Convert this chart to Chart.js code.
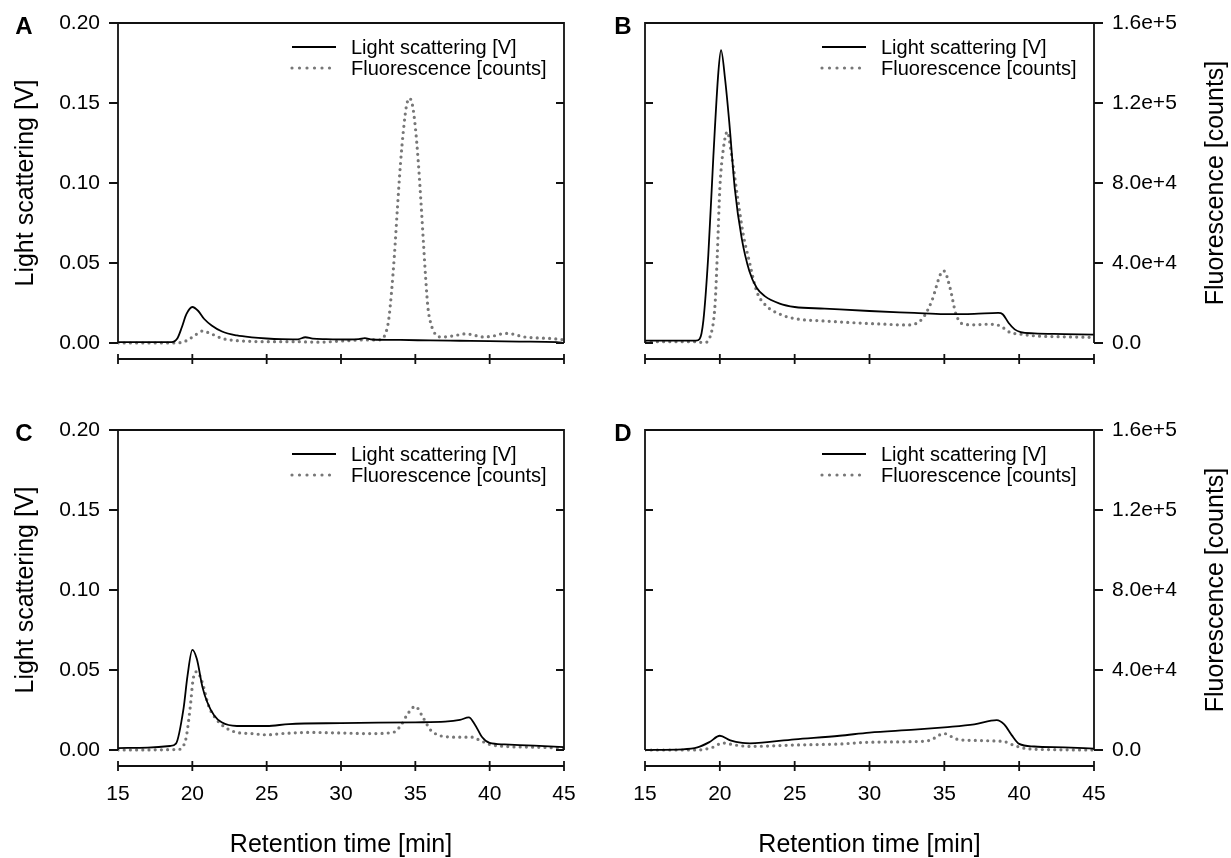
<!DOCTYPE html>
<html lang="en">
<head>
  <meta charset="UTF-8">
  <title>Light scattering and fluorescence chromatograms</title>
  <style>
    body { margin: 0; background: #fff; }
    .page { position: relative; width: 1231px; height: 858px; }
    .panel { position: absolute; }
    #panelA { left: 0; top: 0; width: 615px; height: 400px; }
    #panelB { left: 615px; top: 0; width: 616px; height: 400px; }
    #panelC { left: 0; top: 400px; width: 615px; height: 458px; }
    #panelD { left: 615px; top: 400px; width: 616px; height: 458px; }
  </style>
  <script src="https://cdn.jsdelivr.net/npm/chart.js"></script>
</head>
<body>
  <div class="page">
    <div class="panel" id="panelA"><canvas id="chartA"></canvas></div>
    <div class="panel" id="panelB"><canvas id="chartB"></canvas></div>
    <div class="panel" id="panelC"><canvas id="chartC"></canvas></div>
    <div class="panel" id="panelD"><canvas id="chartD"></canvas></div>
  </div>

  <script>
    // axis ticks
    const timeTicks = [15, 20, 25, 30, 35, 40, 45];
    const lsTicks = [0, 0.05, 0.10, 0.15, 0.20];
    const flTicks = [0, 40000, 80000, 120000, 160000];

    // panel A
    const aLsTime = [15, 18.6, 19.0, 19.3, 19.6, 20.0, 20.4, 20.8, 21.3, 22, 23, 24, 25, 26, 27.1, 27.6, 28.1, 29, 30.5, 31.2, 31.6, 32.1, 34, 36, 38, 40, 42, 44.5, 45];
    const aLsValue = [0.0005, 0.0006, 0.003, 0.010, 0.018, 0.0225, 0.020, 0.015, 0.011, 0.0072, 0.0047, 0.0035, 0.0028, 0.0024, 0.0023, 0.0036, 0.0027, 0.0024, 0.0022, 0.0024, 0.003, 0.0022, 0.0019, 0.0016, 0.0014, 0.0012, 0.0009, 0.0005, 0.0];
    const aFlTime = [15, 18.5, 19.2, 19.7, 20.2, 20.7, 21.2, 22, 23, 24, 25, 27, 28.5, 30, 31.5, 32.6, 33.0, 33.2, 33.4, 33.6, 33.8, 34.0, 34.2, 34.4, 34.6, 34.8, 35.0, 35.2, 35.4, 35.55, 35.7, 35.85, 36.05, 36.4, 36.8, 37.4, 38.0, 38.4, 39.0, 39.6, 40.3, 41.0, 41.6, 42.2, 43, 44, 45];
    const aFlCounts = [0, 0, 200, 1500, 4000, 6000, 4800, 2300, 1200, 800, 650, 650, 400, 950, 1500, 1600, 4800, 11200, 25600, 44800, 68000, 89600, 106400, 118400, 122400, 119200, 108000, 90400, 68000, 49600, 32000, 17600, 9600, 4000, 3000, 3400, 4200, 4600, 3800, 3000, 3600, 4800, 4400, 3200, 2600, 2300, 1600];

    // panel B
    const bLsTime = [15, 18.4, 18.65, 18.9, 19.23, 19.57, 19.9, 20.08, 20.35, 20.63, 21.0, 21.46, 21.97, 22.46, 23.0, 24.0, 25, 27, 30, 33, 35, 37, 38.6, 38.9, 39.3, 39.7, 40.1, 41, 43, 45];
    const bLsValue = [0.0015, 0.0015, 0.0025, 0.014, 0.055, 0.117, 0.169, 0.183, 0.165, 0.138, 0.0965, 0.0655, 0.045, 0.0345, 0.0293, 0.0246, 0.0225, 0.0215, 0.0200, 0.0188, 0.0180, 0.0182, 0.0188, 0.0180, 0.0125, 0.0085, 0.0068, 0.0060, 0.0056, 0.0052];
    const bFlTime = [15, 18.5, 18.7, 19.0, 19.35, 19.68, 19.83, 20.0, 20.23, 20.5, 20.79, 21.17, 21.57, 21.97, 22.46, 23.02, 24.02, 25.0, 27.0, 29.0, 31.0, 32.5, 33.5, 34.15, 34.78, 34.98, 35.38, 35.78, 36.27, 36.94, 37.94, 38.72, 39.39, 40.0, 41, 43, 45];
    const bFlCounts = [640, 640, 320, 320, 3200, 19200, 44000, 77200, 96800, 105600, 93600, 73600, 54100, 40800, 25900, 19200, 14400, 12200, 11000, 10100, 9400, 9000, 11900, 20800, 35000, 36000, 27600, 14400, 9400, 9100, 9400, 8600, 5300, 4500, 3600, 3100, 2800];

    // panel C
    const cLsTime = [15, 17, 18.5, 18.9, 19.41, 19.67, 20.0, 20.3, 20.69, 21.0, 21.46, 21.97, 23, 25, 26.5, 30, 35, 37, 38, 38.6, 39, 39.5, 40, 41, 43, 45];
    const cLsValue = [0.0012, 0.0015, 0.0025, 0.004, 0.026, 0.046, 0.0626, 0.057, 0.039, 0.030, 0.0217, 0.0173, 0.015, 0.015, 0.0162, 0.0168, 0.0173, 0.0177, 0.0188, 0.0204, 0.016, 0.008, 0.0044, 0.0035, 0.0027, 0.0018];
    const cFlTime = [15, 19.0, 19.54, 19.85, 20.05, 20.3, 20.69, 21.08, 21.59, 22.23, 23, 24, 25, 26, 28, 30, 32, 33.5, 34, 34.5, 35, 35.5, 36, 36.5, 37, 38, 38.8, 39.3, 40, 41, 43, 45];
    const cFlCounts = [0, 240, 4800, 20800, 35200, 39200, 33300, 22400, 15600, 11200, 8800, 8200, 7600, 8200, 8800, 8500, 8200, 8800, 12000, 18200, 21800, 16500, 10200, 7600, 6700, 6400, 6400, 5000, 2800, 1800, 1400, 1000];

    // panel D
    const dLsTime = [15, 17.5, 18.5, 19.3, 20, 20.7, 21.5, 22, 25, 28, 30, 33, 35, 37, 38.5, 39, 39.5, 40, 41, 43, 45];
    const dLsValue = [0, 0.0004, 0.0016, 0.0049, 0.0089, 0.006, 0.0044, 0.0042, 0.0067, 0.0089, 0.0109, 0.0127, 0.0142, 0.016, 0.0187, 0.016, 0.0093, 0.0038, 0.0022, 0.0016, 0.0009];
    const dFlTime = [15, 18.5, 19.5, 20.2, 21, 22, 25, 28, 30, 33, 34, 35, 35.5, 36, 37, 38, 39, 39.7, 40.5, 42, 45];
    const dFlCounts = [0, 0, 1300, 3500, 2500, 1800, 2500, 3000, 3900, 4200, 4800, 8200, 6600, 5100, 4800, 4600, 4200, 2200, 700, 200, 0];

    const FONT = "'Liberation Sans', Arial, Helvetica, sans-serif";
    Chart.defaults.font.family = FONT;
    Chart.defaults.color = '#000';

    const toPoints = (times, values) => times.map((t, i) => ({ x: t, y: values[i] }));

    // box frame, inner/outer ticks, offset time axis, legend, panel letter, vertical titles
    const framePlugin = {
      id: 'frame',
      afterDatasetsDraw(chart, args, o) {
        const { ctx, chartArea: a, scales: { x, y } } = chart;
        const y0 = y.getPixelForValue(0);
        ctx.save();
        ctx.strokeStyle = '#111';
        ctx.lineWidth = 1.8;
        ctx.beginPath();
        ctx.moveTo(a.left, y0);
        ctx.lineTo(a.left, a.top);
        ctx.lineTo(a.right, a.top);
        ctx.lineTo(a.right, y0);
        lsTicks.forEach(v => {
          const p = y.getPixelForValue(v);
          if (o.side === 'left') {
            ctx.moveTo(a.left - 9, p); ctx.lineTo(a.left, p);
            ctx.moveTo(a.right - 8, p); ctx.lineTo(a.right, p);
          } else {
            ctx.moveTo(a.left, p); ctx.lineTo(a.left + 8, p);
            ctx.moveTo(a.right, p); ctx.lineTo(a.right + 9, p);
          }
        });
        ctx.moveTo(a.left, a.bottom);
        ctx.lineTo(a.right, a.bottom);
        timeTicks.forEach(t => {
          const p = x.getPixelForValue(t);
          ctx.moveTo(p, a.bottom - 5);
          ctx.lineTo(p, a.bottom + 5);
        });
        ctx.stroke();

        // legend
        ctx.font = '20px ' + FONT;
        ctx.fillStyle = '#000';
        ctx.textAlign = 'left';
        ctx.textBaseline = 'middle';
        chart.data.datasets.forEach((ds, i) => {
          const ly = a.top + 24 + i * 21;
          ctx.save();
          ctx.strokeStyle = ds.borderColor;
          ctx.lineWidth = ds.borderWidth;
          ctx.lineCap = ds.borderCapStyle || 'butt';
          ctx.setLineDash(ds.borderDash ? [0, 7.5] : []);
          ctx.beginPath();
          ctx.moveTo(a.right - 272, ly);
          ctx.lineTo(a.right - 228, ly);
          ctx.stroke();
          ctx.restore();
          ctx.fillText(ds.label, a.right - 213, ly + 1);
        });

        // panel letter
        ctx.font = 'bold 24px ' + FONT;
        ctx.textAlign = 'center';
        ctx.fillText(o.letter, o.letterX, a.top + 4);

        // vertical axis title, reading bottom to top on both sides
        ctx.font = '25px ' + FONT;
        ctx.translate(o.titleX, (a.top + y0) / 2);
        ctx.rotate(-Math.PI / 2);
        ctx.fillText(o.title, 0, 0);
        ctx.restore();
      }
    };

    function makePanel(id, ls, fl, cfg) {
      return new Chart(document.getElementById(id), {
        type: 'line',
        data: {
          datasets: [
            {
              label: 'Light scattering [V]',
              data: ls,
              yAxisID: 'y',
              borderColor: '#000',
              borderWidth: 1.8,
              pointRadius: 0,
              cubicInterpolationMode: 'monotone'
            },
            {
              label: 'Fluorescence [counts]',
              data: fl,
              yAxisID: 'y2',
              borderColor: '#777',
              borderWidth: 3.2,
              borderDash: [0, 6.2],
              borderCapStyle: 'round',
              pointRadius: 0,
              cubicInterpolationMode: 'monotone'
            }
          ]
        },
        options: {
          responsive: true,
          maintainAspectRatio: false,
          animation: false,
          events: [],
          layout: { padding: { top: cfg.top, left: 0, right: 0, bottom: 0 } },
          scales: {
            x: {
              type: 'linear',
              min: 15,
              max: 45,
              afterBuildTicks: s => { s.ticks = timeTicks.map(v => ({ value: v })); },
              afterFit: s => { s.height = cfg.xHeight; },
              grid: { display: false, tickLength: 8 },
              border: { display: false },
              ticks: { display: cfg.showTime, padding: 8, maxRotation: 0, font: { size: 21 } },
              title: {
                display: cfg.showTime,
                text: 'Retention time [min]',
                font: { size: 25, lineHeight: 1 },
                padding: 0
              }
            },
            y: {
              type: 'linear',
              position: 'left',
              min: -0.01,
              max: 0.2,
              afterBuildTicks: s => { s.ticks = lsTicks.map(v => ({ value: v })); },
              afterFit: s => { s.width = cfg.leftWidth; },
              grid: { display: false, tickLength: 9 },
              border: { display: false },
              ticks: { display: cfg.side === 'left', padding: 9, font: { size: 21 }, callback: v => v.toFixed(2) }
            },
            y2: {
              type: 'linear',
              position: 'right',
              min: -8000,
              max: 160000,
              afterBuildTicks: s => { s.ticks = flTicks.map(v => ({ value: v })); },
              afterFit: s => { s.width = cfg.rightWidth; },
              grid: { display: false, tickLength: 9 },
              border: { display: false },
              ticks: {
                display: cfg.side === 'right',
                padding: 9,
                font: { size: 21 },
                callback: v => v === 0 ? '0.0' : v.toExponential(1)
              }
            }
          },
          plugins: {
            legend: { display: false },
            tooltip: { enabled: false },
            frame: cfg.frame
          }
        },
        plugins: [framePlugin]
      });
    }

    makePanel('chartA', toPoints(aLsTime, aLsValue), toPoints(aFlTime, aFlCounts), {
      top: 23, xHeight: 41, leftWidth: 118, rightWidth: 51, showTime: false, side: 'left',
      frame: { side: 'left', letter: 'A', letterX: 24, title: 'Light scattering [V]', titleX: 26 }
    });
    makePanel('chartB', toPoints(bLsTime, bLsValue), toPoints(bFlTime, bFlCounts), {
      top: 23, xHeight: 41, leftWidth: 30, rightWidth: 137, showTime: false, side: 'right',
      frame: { side: 'right', letter: 'B', letterX: 8, title: 'Fluorescence [counts]', titleX: 601 }
    });
    makePanel('chartC', toPoints(cLsTime, cLsValue), toPoints(cFlTime, cFlCounts), {
      top: 30, xHeight: 92, leftWidth: 118, rightWidth: 51, showTime: true, side: 'left',
      frame: { side: 'left', letter: 'C', letterX: 24, title: 'Light scattering [V]', titleX: 26 }
    });
    makePanel('chartD', toPoints(dLsTime, dLsValue), toPoints(dFlTime, dFlCounts), {
      top: 30, xHeight: 92, leftWidth: 30, rightWidth: 137, showTime: true, side: 'right',
      frame: { side: 'right', letter: 'D', letterX: 8, title: 'Fluorescence [counts]', titleX: 601 }
    });
  </script>
</body>
</html>
